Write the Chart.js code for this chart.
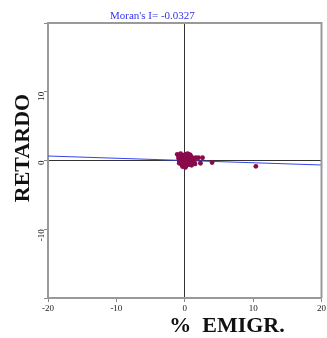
<!DOCTYPE html>
<html>
<head>
<meta charset="utf-8">
<script src="https://cdn.jsdelivr.net/npm/chart.js@4"></script>
<style>
  html, body { margin: 0; padding: 0; background: #fff; }
  #wrap { width: 327px; height: 338px; position: relative; }
</style>
</head>
<body>
<div id="wrap"><canvas id="chart"></canvas></div>
<script>
// % emigration (x) and its spatial lag (y)
const emigr = [
  -1.1, -0.9, -0.8, -0.6, -0.5, -0.4, -0.3, -0.2, -0.1, 0.0,
  0.1, 0.2, 0.3, 0.4, 0.5, 0.6, 0.7, 0.8, 0.9, 1.0,
  -0.7, -0.5, -0.3, -0.1, 0.1, 0.3, 0.5, 0.7, 0.9, 1.1,
  -0.8, -0.4, 0.0, 0.2, 0.4, 0.6, 0.8, 1.2, 1.4, 1.6,
  -0.6, -0.2, 0.3, 0.5, 0.9, 1.3, -0.9, 0.1, 0.6, 1.0,
  2.0, 2.6, 2.3, 1.5, 4.0, 10.4
];
const retardo = [
  0.9, 0.3, -0.4, 1.0, 0.1, -0.7, 0.6, -0.2, 0.8, -0.5,
  0.4, 0.9, -0.3, 0.2, 0.7, -0.6, 0.3, 0.8, -0.1, 0.5,
  0.0, 0.5, -0.9, 0.2, -0.4, 0.7, -0.2, 0.1, 0.6, -0.3,
  -0.2, 0.4, 0.2, -0.8, 1.0, 0.0, -0.4, 0.3, 0.0, 0.4,
  0.6, -0.5, 0.5, -0.1, 0.2, -0.2, 0.6, -1.0, 0.9, -0.7,
  0.4, 0.4, -0.4, -0.5, -0.3, -0.85
];
// fitted line, slope = Moran's I
const fitX = [-20, 20];
const fitY = [0.654, -0.654];

const xTicks = [-20, -10, 0, 10, 20];
const yTicks = [-10, 0, 10];

const points = emigr.map((v, i) => ({ x: v, y: retardo[i] }));
const fitLine = fitX.map((v, i) => ({ x: v, y: fitY[i] }));

const tickFont = { family: 'Liberation Serif', size: 9 };

// frame, caption and axis titles (placed like the original, not centred)
const decorPlugin = {
  id: 'decor',
  afterDraw(chart) {
    const c = chart.ctx;
    const a = chart.chartArea;
    c.save();
    c.strokeStyle = '#999';
    c.lineWidth = 2;
    c.beginPath();
    c.moveTo(a.left, a.top);
    c.lineTo(a.right, a.top);
    c.lineTo(a.right, a.bottom);
    c.stroke();

    c.font = '11px "Liberation Serif"';
    c.fillStyle = '#3333ee';
    c.textBaseline = 'alphabetic';
    c.textAlign = 'left';
    c.fillText("Moran's I= -0.0327", a.left + 62, 19);

    c.font = 'bold 22px "Liberation Serif"';
    c.fillStyle = '#111';
    c.textAlign = 'center';
    c.textBaseline = 'middle';
    c.fillText('%  EMIGR.', 227, 326);

    c.translate(23, 148);
    c.rotate(-Math.PI / 2);
    c.fillText('RETARDO', 0, 0);
    c.restore();
  }
};

new Chart(document.getElementById('chart'), {
  type: 'scatter',
  data: {
    datasets: [
      {
        label: 'fit',
        type: 'line',
        data: fitLine,
        borderColor: '#3344ee',
        borderWidth: 1,
        pointRadius: 0,
        fill: false,
        order: 2
      },
      {
        label: 'obs',
        data: points,
        backgroundColor: '#8a0a4a',
        borderColor: '#8a0a4a',
        pointRadius: 2.4,
        borderWidth: 0,
        order: 1
      }
    ]
  },
  options: {
    responsive: true,
    maintainAspectRatio: false,
    animation: false,
    layout: { padding: { left: 0, right: 2, top: 23, bottom: 0 } },
    plugins: {
      legend: { display: false },
      tooltip: { enabled: false }
    },
    scales: {
      x: {
        type: 'linear',
        min: -20,
        max: 20,
        afterBuildTicks: (s) => { s.ticks = xTicks.map(v => ({ value: v })); },
        afterFit: (s) => { s.height = 40; },
        ticks: { font: tickFont, color: '#222', padding: 1, maxRotation: 0, autoSkip: false },
        grid: {
          color: (ctx) => ctx.tick && ctx.tick.value === 0 ? '#333' : 'rgba(0,0,0,0)',
          tickColor: '#888',
          tickLength: 4
        },
        border: { color: '#999', width: 2 },
        title: { display: false }
      },
      y: {
        type: 'linear',
        min: -20,
        max: 20,
        afterBuildTicks: (s) => { s.ticks = [-20].concat(yTicks, [20]).map(v => ({ value: v })); },
        afterFit: (s) => { s.width = 48; },
        ticks: {
          font: tickFont,
          color: '#222',
          padding: 2,
          minRotation: 90,
          maxRotation: 90,
          autoSkip: false,
          callback: (v) => (yTicks.includes(v) ? v : '')
        },
        grid: {
          color: (ctx) => ctx.tick && ctx.tick.value === 0 ? '#333' : 'rgba(0,0,0,0)',
          tickColor: '#888',
          tickLength: 4
        },
        border: { color: '#999', width: 2 },
        title: { display: false }
      }
    }
  },
  plugins: [decorPlugin]
});
</script>
</body>
</html>
